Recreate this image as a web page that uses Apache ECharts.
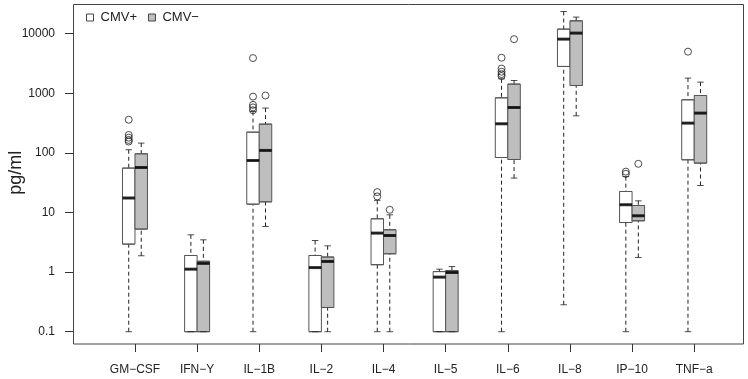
<!DOCTYPE html>
<html>
<head>
<meta charset="utf-8">
<script src="https://cdn.jsdelivr.net/npm/echarts@6/dist/echarts.min.js"></script>
<style>
html, body { margin: 0; padding: 0; background: #fff; }
#chart { width: 748px; height: 379px; }
</style>
</head>
<body>
<div id="chart"></div>
<script>
// cytokine levels, log scale
const categories = ['GM−CSF', 'IFN−Y', 'IL−1B', 'IL−2', 'IL−4', 'IL−5', 'IL−6', 'IL−8', 'IP−10', 'TNF−a'];

// [min, Q1, median, Q3, max] per category
const cmvPos = [
    [0.1, 2.95, 17.5, 55.6, 113],
    [0.1, 0.1, 1.12, 1.90, 4.22],
    [0.1, 13.8, 74.5, 223, 495],
    [0.1, 0.1, 1.19, 1.90, 3.39],
    [0.1, 1.33, 4.51, 7.84, 16],
    [0.1, 0.1, 0.824, 1.02, 1.12],
    [0.1, 83.7, 308, 840, 1750],
    [0.283, 2820, 8110, 11940, 23600],
    [0.1, 6.79, 13.5, 22.5, 40],
    [0.1, 76.6, 316, 778, 1800]
];
const cmvNeg = [
    [1.88, 5.27, 56.9, 96.6, 146],
    [0.1, 0.1, 1.40, 1.52, 3.48],
    [5.82, 15.1, 110, 304, 565],
    [0.1, 0.255, 1.51, 1.79, 2.76],
    [0.1, 2.03, 4.11, 5.13, 9.15],
    [0.1, 0.1, 0.985, 1.06, 1.24],
    [37.8, 77.5, 578, 1427, 1640],
    [419, 1352, 10230, 16450, 19000],
    [1.76, 7.26, 8.81, 13.1, 15.7],
    [28.4, 67.4, 465, 918, 1540]
];

const cmvPosOutliers = [
    ['GM−CSF', 360], ['GM−CSF', 200], ['GM−CSF', 180], ['GM−CSF', 165], ['GM−CSF', 155],
    ['IL−1B', 520], ['IL−1B', 580], ['IL−1B', 640], ['IL−1B', 880], ['IL−1B', 3900],
    ['IL−4', 18.6], ['IL−4', 22],
    ['IL−6', 1950], ['IL−6', 2100], ['IL−6', 2300], ['IL−6', 2600], ['IL−6', 3950],
    ['IP−10', 44.5], ['IP−10', 48.5],
    ['TNF−a', 5000]
];
const cmvNegOutliers = [
    ['IL−1B', 918],
    ['IL−4', 11.1],
    ['IL−6', 8100],
    ['IP−10', 65.6]
];

const FONT = 'Liberation Sans';
const yMin = 0.1, yMax = 10000;

// each boxplot series gets its own x axis, otherwise echarts puts them side by side
function hiddenX(gi, pos){
    return {gridIndex: gi, type: 'category', data: categories, position: pos, show: false};
}
function hiddenY(gi){
    return {gridIndex: gi, type: 'log', logBase: 10, min: yMin, max: yMax, show: false};
}

function groupSeries(name, stats, outliers, boxAxis, whiskerAxis, yi, fill){
    return [
        {
            name: name + ' whiskers', type: 'boxplot', z: 2, silent: true,
            xAxisIndex: whiskerAxis, yAxisIndex: yi,
            boxWidth: [0, 0],
            data: stats,
            itemStyle: {color: 'none', borderColor: '#222', borderWidth: 1, borderType: [4, 3]}
        },
        {
            name: name, type: 'boxplot', z: 3, silent: true,
            xAxisIndex: boxAxis, yAxisIndex: yi,
            boxWidth: [12.5, 12.5],
            data: stats.map(s => [s[1], s[1], s[2], s[3], s[3]]),
            itemStyle: {color: fill, borderColor: '#555', borderWidth: 1}
        },
        {
            name: name + ' median', type: 'scatter', z: 4, silent: true, clip: false,
            xAxisIndex: boxAxis, yAxisIndex: yi,
            symbol: 'rect', symbolSize: [12.5, 3],
            data: stats.map((s, i) => [i, s[2]]),
            itemStyle: {color: '#000'}
        },
        {
            name: name + ' caps', type: 'scatter', z: 4, silent: true, clip: false,
            xAxisIndex: boxAxis, yAxisIndex: yi,
            symbol: 'rect', symbolSize: [6.5, 1],
            data: stats.flatMap((s, i) => [[i, s[0]], [i, s[4]]]),
            itemStyle: {color: '#222'}
        },
        {
            name: name + ' outliers', type: 'scatter', z: 4, silent: true, clip: false,
            xAxisIndex: boxAxis, yAxisIndex: yi,
            symbol: 'circle', symbolSize: 7,
            data: outliers,
            itemStyle: {color: 'none', borderColor: '#222', borderWidth: 1}
        }
    ];
}

const gridBase = {top: 33.7, bottom: 47.3, outerBoundsMode: 'none', containLabel: false};

const option = {
    animation: false,
    backgroundColor: '#fff',
    textStyle: {fontFamily: FONT},
    grid: [
        Object.assign({left: 103.9, right: 22.7}, gridBase),
        Object.assign({left: 97.65, right: 28.95}, gridBase),
        Object.assign({left: 110.15, right: 16.45}, gridBase)
    ],
    legend: {
        left: 81, top: 6,
        itemWidth: 7, itemHeight: 7, itemGap: 11,
        selectedMode: false,
        textStyle: {fontFamily: FONT, fontSize: 13, color: '#222', padding: [0, 0, 0, 2]},
        data: [
            {name: 'CMV+', icon: 'rect', itemStyle: {color: '#fff', borderColor: '#444', borderWidth: 1}},
            {name: 'CMV−', icon: 'rect', itemStyle: {color: '#bebebe', borderColor: '#444', borderWidth: 1}}
        ]
    },
    xAxis: [
        {
            gridIndex: 0, type: 'category', data: categories, offset: 12.3,
            axisLine: {show: false},
            axisTick: {show: true, alignWithLabel: true, interval: 0, length: 8, lineStyle: {color: '#333'}},
            axisLabel: {interval: 0, margin: 20, fontFamily: FONT, fontSize: 12, color: '#222'},
            splitLine: {show: false}
        },
        hiddenX(1, 'bottom'), hiddenX(1, 'top'),
        hiddenX(2, 'bottom'), hiddenX(2, 'top')
    ],
    yAxis: [
        {
            gridIndex: 0, type: 'log', logBase: 10, min: yMin, max: yMax, offset: 30.9,
            name: 'pg/ml', nameLocation: 'middle', nameGap: 48, nameMoveOverlap: false,
            nameTextStyle: {fontFamily: FONT, fontSize: 18, color: '#222', padding: [0, 0, 0, 20]},
            axisLine: {show: false},
            axisTick: {show: true, length: 8, lineStyle: {color: '#333'}},
            axisLabel: {margin: 18, fontFamily: FONT, fontSize: 12, color: '#222',
                formatter: v => String(+(+v).toPrecision(4))},
            splitLine: {show: false}
        },
        hiddenY(1), hiddenY(2)
    ],
    graphic: [{
        type: 'rect', silent: true,
        shape: {x: 73.5, y: 4.5, width: 670, height: 339.5},
        style: {fill: 'none', stroke: '#444', lineWidth: 1}
    }],
    series: [].concat(
        groupSeries('CMV+', cmvPos, cmvPosOutliers, 1, 2, 1, '#fff'),
        groupSeries('CMV−', cmvNeg, cmvNegOutliers, 3, 4, 2, '#bebebe')
    )
};

const chart = echarts.init(document.getElementById('chart'));
chart.setOption(option);
</script>
</body>
</html>
